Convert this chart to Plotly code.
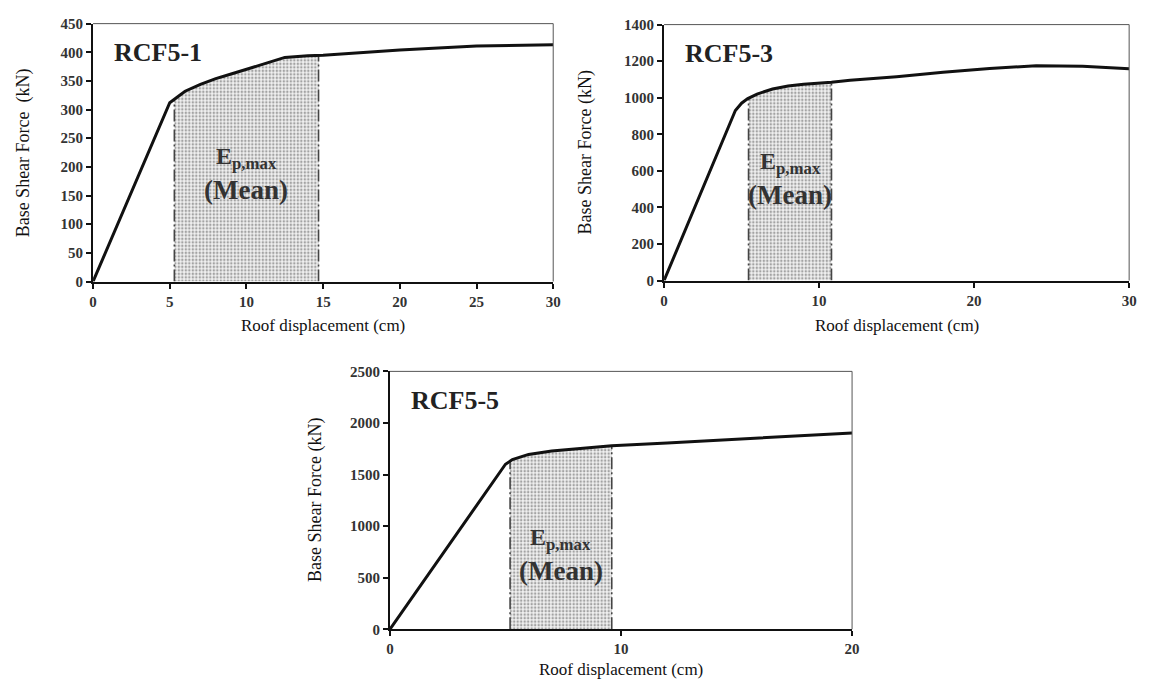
import numpy as np
import plotly.graph_objects as go

# Pushover curves: roof displacement (cm) vs base shear force (kN)
rcf51_disp = [0, 5.0, 5.5, 6, 7, 8, 9, 10, 11, 12, 12.5, 14, 15, 20, 25, 30]
rcf51_shear = [0, 312, 322, 332, 344, 354, 362, 370, 378, 386, 391, 394, 395, 404, 411, 413]
rcf51_band = [5.3, 14.7]

rcf53_disp = [0, 4.6, 5.0, 5.4, 6, 7, 8, 9, 10.8, 12, 15, 18, 21, 24, 27, 30]
rcf53_shear = [0, 930, 970, 995, 1020, 1048, 1064, 1074, 1085, 1095, 1115, 1140, 1160, 1175, 1172, 1158]
rcf53_band = [5.45, 10.8]

rcf55_disp = [0, 5.0, 5.3, 6, 7, 8, 9.6, 12, 15, 20]
rcf55_shear = [0, 1600, 1645, 1695, 1728, 1750, 1778, 1806, 1840, 1903]
rcf55_band = [5.2, 9.6]

panel_names = ["RCF5-1", "RCF5-3", "RCF5-5"]
y_titles = ["Base Shear Force  (kN)", "Base Shear Force (kN)", "Base Shear Force (kN)"]
x_ticks = [[0, 5, 10, 15, 20, 25, 30], [0, 10, 20, 30], [0, 10, 20]]
y_ticks = [list(range(0, 451, 50)), list(range(0, 1401, 200)), list(range(0, 2501, 500))]
x_ranges = [[0, 30], [0, 30], [0, 20]]
y_ranges = [[0, 450], [0, 1400], [0, 2500]]

W, H = 1151, 691
# panel boxes in pixels: left, right, top, bottom
boxes = [(90, 555, 16, 280), (667, 1137, 17, 279), (390, 857, 372, 636)]
# pixel positions of the panel texts
ytitle_x = [20, 588, 315]
xtitle_y = [325, 325, 677]
label_split_y = [170, 175, 560]

SERIF = "Liberation Serif, Times New Roman, serif"

fig = go.Figure()

series = [
    (rcf51_disp, rcf51_shear, rcf51_band),
    (rcf53_disp, rcf53_shear, rcf53_band),
    (rcf55_disp, rcf55_shear, rcf55_band),
]

for i, ((xd, yd, band), box) in enumerate(zip(series, boxes)):
    n = "" if i == 0 else str(i + 1)
    xa, ya = "x" + n, "y" + n
    left, right, top, bottom = box

    # shaded plastic-energy band under the curve
    bx = np.linspace(band[0], band[1], 60)
    by = np.interp(bx, xd, yd)
    fig.add_trace(go.Scatter(
        x=bx, y=by, xaxis=xa, yaxis=ya, mode="none", fill="tozeroy",
        fillcolor="rgba(255,255,255,0)",
        fillpattern=dict(shape=".", fgcolor="#555555", bgcolor="#f0f0f0", size=3.5, solidity=0.4),
        showlegend=False, hoverinfo="skip"))

    # band limits as dash-dot verticals
    for bxv in band:
        fig.add_trace(go.Scatter(
            x=[bxv, bxv], y=[0, float(np.interp(bxv, xd, yd))], xaxis=xa, yaxis=ya,
            mode="lines", line=dict(color="#444", width=1.6, dash="12px,3px,2px,3px"),
            showlegend=False, hoverinfo="skip"))

    # capacity curve
    fig.add_trace(go.Scatter(
        x=xd, y=yd, xaxis=xa, yaxis=ya, mode="lines",
        line=dict(color="#111", width=3), showlegend=False))

    axis_common = dict(
        showline=True, linecolor="#111", linewidth=2, ticks="outside", ticklen=5,
        tickwidth=1.5, tickcolor="#111", showgrid=False, zeroline=False, mirror=False,
        tickfont=dict(family=SERIF, size=15, color="#333", weight="bold"),
    )
    fig.layout["xaxis" + n] = dict(
        axis_common, domain=[left / W, right / W], range=x_ranges[i],
        tickvals=x_ticks[i], anchor=ya)
    fig.layout["yaxis" + n] = dict(
        axis_common, domain=[1 - bottom / H, 1 - top / H], range=y_ranges[i],
        tickvals=y_ticks[i], anchor=xa)

    # thin top and right frame
    fig.add_shape(type="line", xref=xa + " domain", yref=ya + " domain",
                  x0=0, x1=1, y0=1, y1=1, line=dict(color="#555", width=1))
    fig.add_shape(type="line", xref=xa + " domain", yref=ya + " domain",
                  x0=1, x1=1, y0=0, y1=1, line=dict(color="#555", width=1))

    # panel name
    fig.add_annotation(text=panel_names[i], xref="paper", yref="paper",
                       x=(left + 19) / W, xanchor="left", y=1 - (top + 30) / H, yanchor="middle",
                       showarrow=False,
                       font=dict(family=SERIF, size=26, color="#222", weight="bold"))

    # band label
    cx = (band[0] + band[1]) / 2
    split = 1 - label_split_y[i] / H
    fig.add_annotation(text="E<sub>p,max</sub>", xref=xa, yref="paper", x=cx,
                       xanchor="center", y=split, yanchor="bottom", showarrow=False,
                       borderpad=0,
                       font=dict(family=SERIF, size=24, color="#333", weight="bold"))
    fig.add_annotation(text="(Mean)", xref=xa, yref="paper", x=cx,
                       xanchor="center", y=split, yanchor="top", showarrow=False,
                       borderpad=0,
                       font=dict(family=SERIF, size=27, color="#333", weight="bold"))

    # axis titles
    fig.add_annotation(text=y_titles[i], xref="paper", yref="paper",
                       x=ytitle_x[i] / W, xanchor="center",
                       y=1 - (top + bottom) / 2 / H, yanchor="middle", textangle=-90,
                       showarrow=False,
                       font=dict(family=SERIF, size=18, color="#111"))
    fig.add_annotation(text="Roof displacement (cm)", xref="paper", yref="paper",
                       x=(left + right) / 2 / W, xanchor="center",
                       y=1 - xtitle_y[i] / H, yanchor="middle",
                       showarrow=False,
                       font=dict(family=SERIF, size=17, color="#111"))

fig.update_layout(
    width=W, height=H, margin=dict(l=0, r=0, t=0, b=0),
    paper_bgcolor="white", plot_bgcolor="white", showlegend=False,
)

fig.write_html("out.html")
